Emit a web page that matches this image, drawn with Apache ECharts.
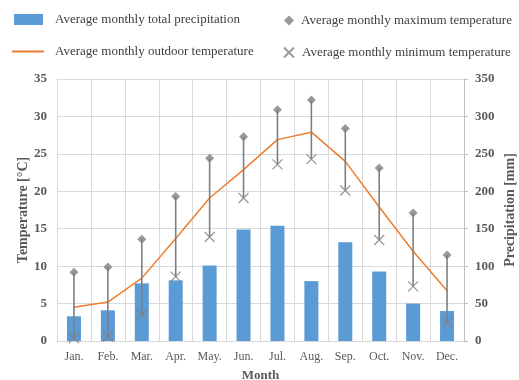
<!DOCTYPE html>
<html>
<head>
<meta charset="utf-8">
<script src="https://cdn.jsdelivr.net/npm/echarts@6/dist/echarts.min.js"></script>
<style>
html,body{margin:0;padding:0;background:#fff;}
#chart{width:519px;height:380px;}
</style>
</head>
<body>
<div id="chart"></div>
<script>
// Monthly climate data
var months = ['Jan.', 'Feb.', 'Mar.', 'Apr.', 'May.', 'Jun.', 'Jul.', 'Aug.', 'Sep.', 'Oct.', 'Nov.', 'Dec.'];
var precipitation = [33, 41, 77, 81, 101, 149, 154, 80, 132, 93, 50, 40];          // mm
var meanTemp = [4.5, 5.2, 8.4, 13.7, 19.1, 22.9, 26.9, 27.9, 24.0, 17.9, 12.0, 6.7]; // °C
var maxTemp = [9.2, 9.9, 13.6, 19.3, 24.4, 27.3, 30.9, 32.2, 28.4, 23.1, 17.1, 11.5]; // °C
var minTemp = [0.4, 0.6, 3.5, 8.6, 13.9, 19.1, 23.6, 24.3, 20.1, 13.5, 7.3, 2.4];     // °C
var tempTicks = [0, 35, 5];
var precipTicks = [0, 350, 50];

var serif = '"Liberation Serif","Times New Roman",serif';
var gray = '#7f7f7f';
var textGray = '#595959';
var crossPath = 'path://M0,0L10,10M10,0L0,10';

var rangeData = months.map(function (m, i) { return [i, minTemp[i], maxTemp[i]]; });

function legendText(pad) {
  return { fontFamily: serif, fontSize: 13, color: '#404040', padding: [0, 0, 0, pad] };
}

var chart = echarts.init(document.getElementById('chart'));
chart.setOption({
  animation: false,
  backgroundColor: '#fff',
  textStyle: { fontFamily: serif },
  legend: [
    { data: [{ name: 'Average monthly total precipitation', icon: 'rect' }], left: 14, top: 13, padding: 0, itemWidth: 29, itemHeight: 11, textStyle: legendText(7) },
    { data: [{ name: 'Average monthly maximum temperature', icon: 'diamond' }], left: 284, top: 14, padding: 0, itemWidth: 10, itemHeight: 10, textStyle: legendText(2) },
    { data: [{ name: 'Average monthly outdoor temperature', icon: 'rect' }], left: 12, top: 45, padding: 0, itemWidth: 32, itemHeight: 2, textStyle: legendText(6) },
    { data: [{ name: 'Average monthly minimum temperature', icon: crossPath }], left: 283, top: 46, padding: 0, itemWidth: 10, itemHeight: 10, textStyle: legendText(3) }
  ],
  grid: { left: 57, right: 55, top: 79, bottom: 39, containLabel: false, outerBoundsMode: 'none' },
  xAxis: {
    type: 'category',
    data: months,
    name: 'Month',
    nameLocation: 'middle',
    nameGap: 28,
    nameMoveOverlap: false,
    nameTextStyle: { fontFamily: serif, fontSize: 13, fontWeight: 'bold', color: textGray },
    axisLine: { lineStyle: { color: '#d9d9d9' } },
    axisTick: { show: false },
    axisLabel: { fontFamily: serif, fontSize: 12, color: textGray, margin: 10 },
    splitLine: { show: true, lineStyle: { color: '#d9d9d9' } }
  },
  yAxis: [
    {
      type: 'value', min: tempTicks[0], max: tempTicks[1], interval: tempTicks[2],
      name: 'Temperature [°C]', nameLocation: 'middle', nameGap: 27,
      nameMoveOverlap: false,
      nameTextStyle: { fontFamily: serif, fontSize: 14, fontWeight: 'bold', color: textGray },
      axisLine: { show: true, lineStyle: { color: '#d9d9d9' } },
      axisTick: { show: false },
      axisLabel: { fontFamily: serif, fontSize: 13, fontWeight: 'bold', color: textGray, margin: 10 },
      splitLine: { show: true, lineStyle: { color: '#d9d9d9' } }
    },
    {
      type: 'value', min: precipTicks[0], max: precipTicks[1], interval: precipTicks[2],
      name: 'Precipitation [mm]', nameLocation: 'middle', nameGap: 39,
      nameMoveOverlap: false,
      nameTextStyle: { fontFamily: serif, fontSize: 14, fontWeight: 'bold', color: textGray },
      axisLine: { show: true, lineStyle: { color: '#bfbfbf' } },
      axisTick: { show: true, length: 4, lineStyle: { color: '#bfbfbf' } },
      axisLabel: { fontFamily: serif, fontSize: 13, fontWeight: 'bold', color: textGray, margin: 11 },
      splitLine: { show: false }
    }
  ],
  series: [
    {
      name: 'Average monthly total precipitation',
      type: 'bar', yAxisIndex: 1, data: precipitation, barWidth: 14,
      itemStyle: { color: '#5b9bd5' }, z: 1
    },
    {
      name: 'Average monthly outdoor temperature',
      type: 'line', yAxisIndex: 0, data: meanTemp, symbol: 'none',
      lineStyle: { color: '#ed7d31', width: 1.5 }, itemStyle: { color: '#ed7d31' }, z: 3
    },
    {
      name: 'temperature range',
      type: 'custom', yAxisIndex: 0, data: rangeData, z: 4,
      renderItem: function (params, api) {
        var lo = api.coord([api.value(0), api.value(1)]);
        var hi = api.coord([api.value(0), api.value(2)]);
        return {
          type: 'line',
          shape: { x1: lo[0], y1: lo[1], x2: hi[0], y2: hi[1] },
          style: { stroke: gray, lineWidth: 1.6 }
        };
      }
    },
    {
      name: 'Average monthly maximum temperature',
      type: 'scatter', yAxisIndex: 0, data: maxTemp, symbol: 'diamond', symbolSize: 9,
      itemStyle: { color: gray }, z: 5
    },
    {
      name: 'Average monthly minimum temperature',
      type: 'scatter', yAxisIndex: 0, data: minTemp, symbol: crossPath, symbolSize: 10,
      itemStyle: { color: 'transparent', borderColor: gray, borderWidth: 1.3 }, z: 5
    }
  ]
});
</script>
</body>
</html>
